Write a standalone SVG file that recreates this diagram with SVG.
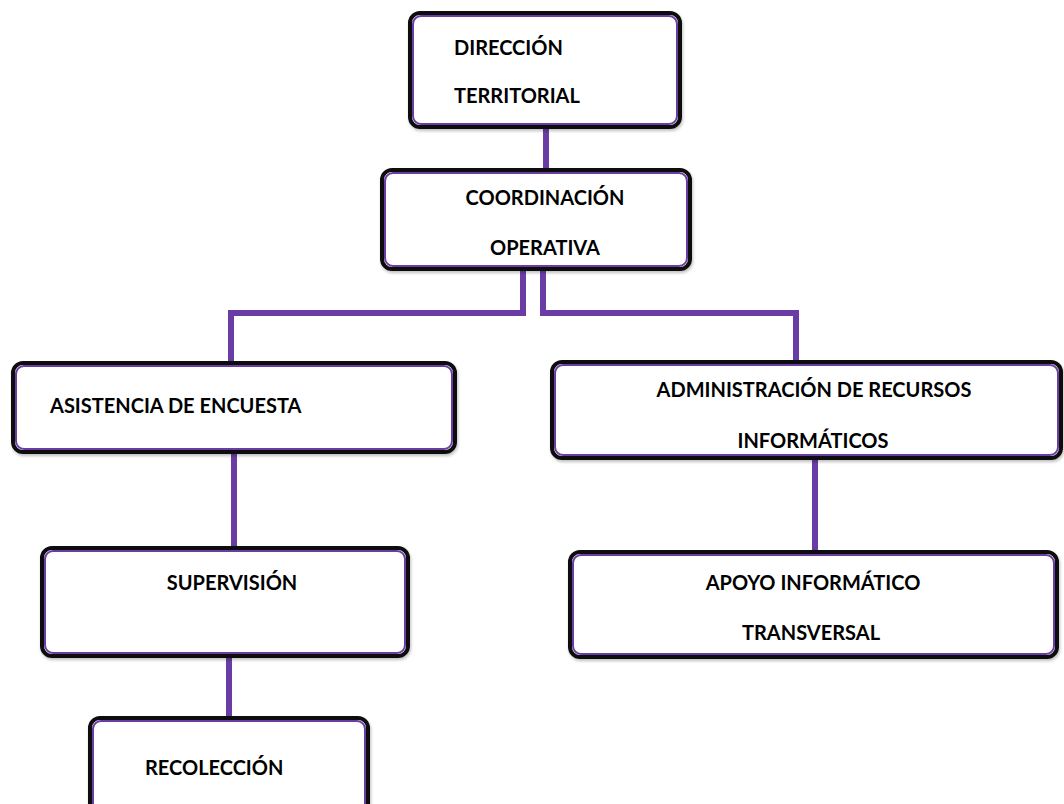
<svg xmlns="http://www.w3.org/2000/svg" width="1064" height="804" viewBox="0 0 1064 804">
<defs>
<filter id="sh" x="-5%" y="-5%" width="110%" height="115%"><feDropShadow dx="1" dy="2" stdDeviation="1.5" flood-color="#000" flood-opacity="0.25"/></filter>
</defs>
<style>
.box{fill:#fff;stroke:#111;stroke-width:4;filter:url(#sh)}
.inner{fill:none;stroke:#6a3da6;stroke-width:2}
.t{font-family:Lato,"Liberation Sans",sans-serif;font-weight:bold;font-size:20px;fill:#000}
.c{text-anchor:middle}
.ln{fill:none;stroke:#6a3da6;stroke-width:6}
</style>
<rect width="1064" height="804" fill="#fff"/>
<g id="connectors">
<path class="ln" d="M546 127V171"/>
<path class="ln" d="M523 269V313H231V362"/>
<path class="ln" d="M543 269V313H796V362"/>
<path class="ln" d="M234 452V547"/>
<path class="ln" d="M815 458V552"/>
<path class="ln" d="M229 656V719"/>
</g>
<g id="n-direccion">
<rect class="box" x="410" y="13" width="270" height="114" rx="10"/>
<rect class="inner" x="413" y="16" width="264" height="108" rx="8"/>
<text class="t" x="454" y="55">DIRECCIÓN</text>
<text class="t" x="454" y="103">TERRITORIAL</text>
</g>
<g id="n-coordinacion">
<rect class="box" x="382" y="170" width="308" height="99" rx="10"/>
<rect class="inner" x="385" y="173" width="302" height="93" rx="8"/>
<text class="t c" x="545" y="205">COORDINACIÓN</text>
<text class="t c" x="545" y="255">OPERATIVA</text>
</g>
<g id="n-asistencia">
<rect class="box" x="13" y="363" width="442" height="89" rx="10"/>
<rect class="inner" x="16" y="366" width="436" height="83" rx="8"/>
<text class="t" x="50" y="413">ASISTENCIA DE ENCUESTA</text>
</g>
<g id="n-admin">
<rect class="box" x="552" y="362" width="509" height="96" rx="10"/>
<rect class="inner" x="555" y="365" width="503" height="90" rx="8"/>
<text class="t c" x="814" y="397">ADMINISTRACIÓN DE RECURSOS</text>
<text class="t c" x="813" y="448">INFORMÁTICOS</text>
</g>
<g id="n-supervision">
<rect class="box" x="42" y="548" width="366" height="108" rx="10"/>
<rect class="inner" x="45" y="551" width="360" height="102" rx="8"/>
<text class="t c" x="232" y="590">SUPERVISIÓN</text>
</g>
<g id="n-apoyo">
<rect class="box" x="570" y="552" width="487" height="105" rx="10"/>
<rect class="inner" x="573" y="555" width="481" height="99" rx="8"/>
<text class="t c" x="813" y="590">APOYO INFORMÁTICO</text>
<text class="t c" x="811" y="640">TRANSVERSAL</text>
</g>
<g id="n-recoleccion">
<rect class="box" x="90" y="718" width="278" height="100" rx="10"/>
<rect class="inner" x="93" y="721" width="272" height="94" rx="8"/>
<text class="t" x="145" y="775">RECOLECCIÓN</text>
</g>
</svg>
